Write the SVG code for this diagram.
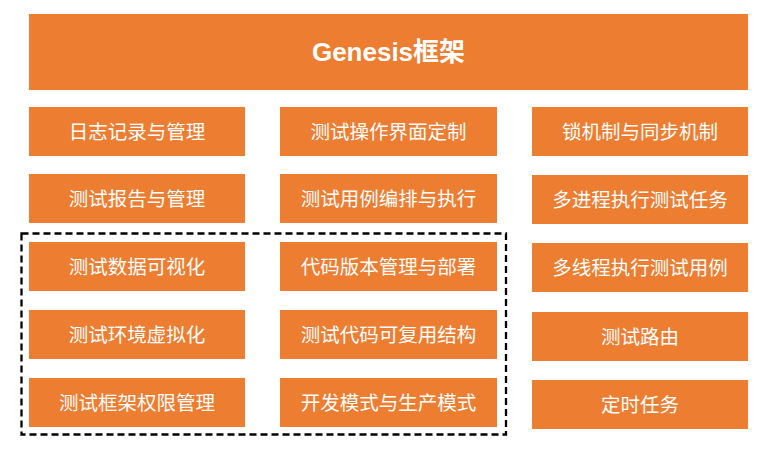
<svg xmlns="http://www.w3.org/2000/svg" width="769" height="449" viewBox="0 0 769 449">
<style>
.b{fill:#ED7D31}
.t{fill:#fff;font-family:"Liberation Sans","Noto Sans CJK SC",sans-serif;font-size:19.5px;text-anchor:middle;dominant-baseline:central}
.h{font-size:26px;font-weight:bold}
</style>
<rect width="769" height="449" fill="#fff"/>
<g id="title"><rect class="b" x="29" y="14" width="719" height="76"/><text class="t h" x="388.5" y="52">Genesis框架</text></g>
<g id="n1"><rect class="b" x="29" y="107" width="216" height="49"/><text class="t" x="137" y="131.5">日志记录与管理</text></g>
<g id="n2"><rect class="b" x="29" y="174" width="216" height="49"/><text class="t" x="137" y="198.5">测试报告与管理</text></g>
<g id="n3"><rect class="b" x="29" y="242" width="216" height="49"/><text class="t" x="137" y="266.5">测试数据可视化</text></g>
<g id="n4"><rect class="b" x="29" y="310" width="216" height="49"/><text class="t" x="137" y="334.5">测试环境虚拟化</text></g>
<g id="n5"><rect class="b" x="29" y="378" width="216" height="49"/><text class="t" x="137" y="402.5">测试框架权限管理</text></g>
<g id="n6"><rect class="b" x="280" y="107" width="217" height="49"/><text class="t" x="388.5" y="131.5">测试操作界面定制</text></g>
<g id="n7"><rect class="b" x="280" y="174" width="217" height="49"/><text class="t" x="388.5" y="198.5">测试用例编排与执行</text></g>
<g id="n8"><rect class="b" x="280" y="242" width="217" height="49"/><text class="t" x="388.5" y="266.5">代码版本管理与部署</text></g>
<g id="n9"><rect class="b" x="280" y="310" width="217" height="49"/><text class="t" x="388.5" y="334.5">测试代码可复用结构</text></g>
<g id="n10"><rect class="b" x="280" y="378" width="217" height="49"/><text class="t" x="388.5" y="402.5">开发模式与生产模式</text></g>
<g id="n11"><rect class="b" x="532" y="107" width="216" height="49"/><text class="t" x="640" y="131.5">锁机制与同步机制</text></g>
<g id="n12"><rect class="b" x="532" y="175" width="216" height="49"/><text class="t" x="640" y="199.5">多进程执行测试任务</text></g>
<g id="n13"><rect class="b" x="532" y="243" width="216" height="49"/><text class="t" x="640" y="267.5">多线程执行测试用例</text></g>
<g id="n14"><rect class="b" x="532" y="312" width="216" height="49"/><text class="t" x="640" y="336.5">测试路由</text></g>
<g id="n15"><rect class="b" x="532" y="380" width="216" height="49"/><text class="t" x="640" y="404.5">定时任务</text></g>
<g id="connectors"><rect x="21.5" y="233.5" width="484.5" height="201" fill="none" stroke="#000" stroke-width="2.3" stroke-dasharray="7 4"/></g>
</svg>
